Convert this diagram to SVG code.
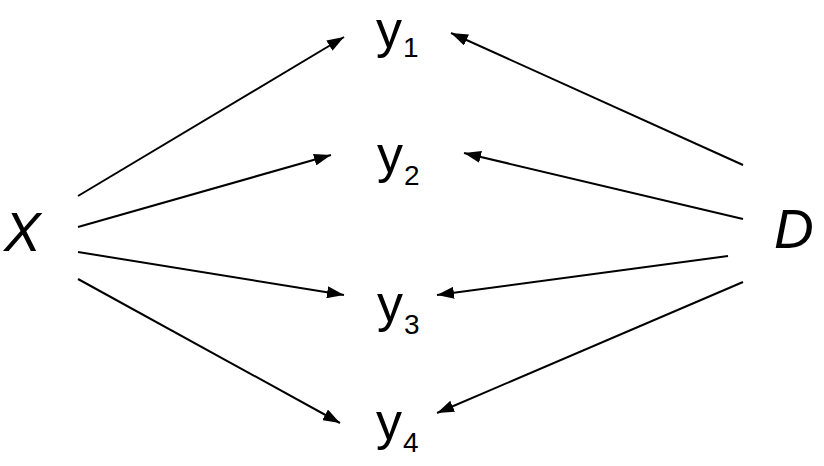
<svg xmlns="http://www.w3.org/2000/svg" width="824" height="466" viewBox="0 0 824 466">
<style>
.big{font-family:"Liberation Sans",Arial,sans-serif;font-size:55px;font-style:italic;fill:#000}
.y{font-family:"Liberation Sans",Arial,sans-serif;font-size:52px;fill:#000}
.sub{font-size:28px}
.c line{stroke:#000;stroke-width:2;marker-end:url(#ah)}
</style>
<defs>
<marker id="ah" markerUnits="userSpaceOnUse" viewBox="0 0 17 12" refX="17" refY="6" markerWidth="17" markerHeight="12" orient="auto">
<path d="M0,0 L17,6 L0,12 Z" fill="#000"/>
</marker>
</defs>
<rect width="824" height="466" fill="#fff"/>
<g id="X"><text class="big" x="4" y="251">X</text></g>
<g id="D"><text class="big" x="774" y="248">D</text></g>
<g id="y1"><text class="y" x="376" y="47">y<tspan class="sub" dx="1" dy="10">1</tspan></text></g>
<g id="y2"><text class="y" x="377" y="172">y<tspan class="sub" dx="1" dy="13">2</tspan></text></g>
<g id="y3"><text class="y" x="377" y="321">y<tspan class="sub" dx="1" dy="13">3</tspan></text></g>
<g id="y4"><text class="y" x="376" y="439">y<tspan class="sub" dx="1" dy="13">4</tspan></text></g>
<g id="connectors" class="c">
<line x1="78" y1="196" x2="344" y2="37"/>
<line x1="78" y1="227" x2="331" y2="155"/>
<line x1="78" y1="252" x2="344" y2="295"/>
<line x1="78" y1="279" x2="340" y2="423"/>
<line x1="743" y1="165" x2="451" y2="33"/>
<line x1="743" y1="219" x2="464" y2="153"/>
<line x1="728" y1="256" x2="437" y2="295"/>
<line x1="743" y1="282" x2="437" y2="413"/>
</g>
</svg>
